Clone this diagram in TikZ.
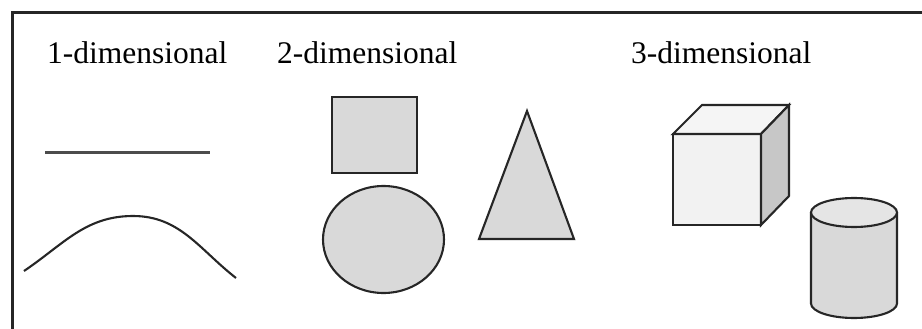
\documentclass[tikz,border=0pt]{standalone}
\usepackage{fontspec}
\setmainfont{Liberation Serif}
\begin{document}
\begin{tikzpicture}[x=1pt,y=-1pt,
  lbl/.style={anchor=base west,inner sep=0pt,font=\fontsize{31.5}{36}\selectfont},
  shp/.style={draw=black!85,line width=2.1pt,line join=miter},
  gfill/.style={fill=black!15}]
\useasboundingbox (0,0) rectangle (922,329);
% frame
\draw[line width=3pt,black!85] (12,331) -- (12,13) -- (924,13);
% labels
\node[lbl] (t1) at (47,64) {1-dimensional};
\node[lbl] (t2) at (277,64) {2-dimensional};
\node[lbl] (t3) at (631,64) {3-dimensional};
% 1D
\draw[line width=3pt,black!70] (45,152) -- (210,152);
\draw[shp] (24,271) to[out=34,in=180] (133,216) to[out=0,in=142] (236,278);
% 2D
\draw[shp,gfill] (332,97) rectangle (417,173);
\draw[shp,gfill] (383.5,239.5) ellipse [x radius=60.5,y radius=53.5];
\draw[shp,gfill] (479,239) -- (527,111) -- (574,239) -- cycle;
% cube
\draw[shp,fill=black!5] (673,134) rectangle (761,225);
\draw[shp,fill=black!4] (673,134) -- (702,105) -- (789,105) -- (761,134) -- cycle;
\draw[shp,fill=black!22] (761,134) -- (789,105) -- (789,196) -- (761,225) -- cycle;
% cylinder
\draw[shp,gfill] (811,212.5) -- (811,303.5) arc[start angle=180,end angle=0,x radius=43,y radius=14.5] -- (897,212.5);
\draw[shp,fill=black!10] (854,212.5) ellipse [x radius=43,y radius=14.5];
\end{tikzpicture}
\end{document}
